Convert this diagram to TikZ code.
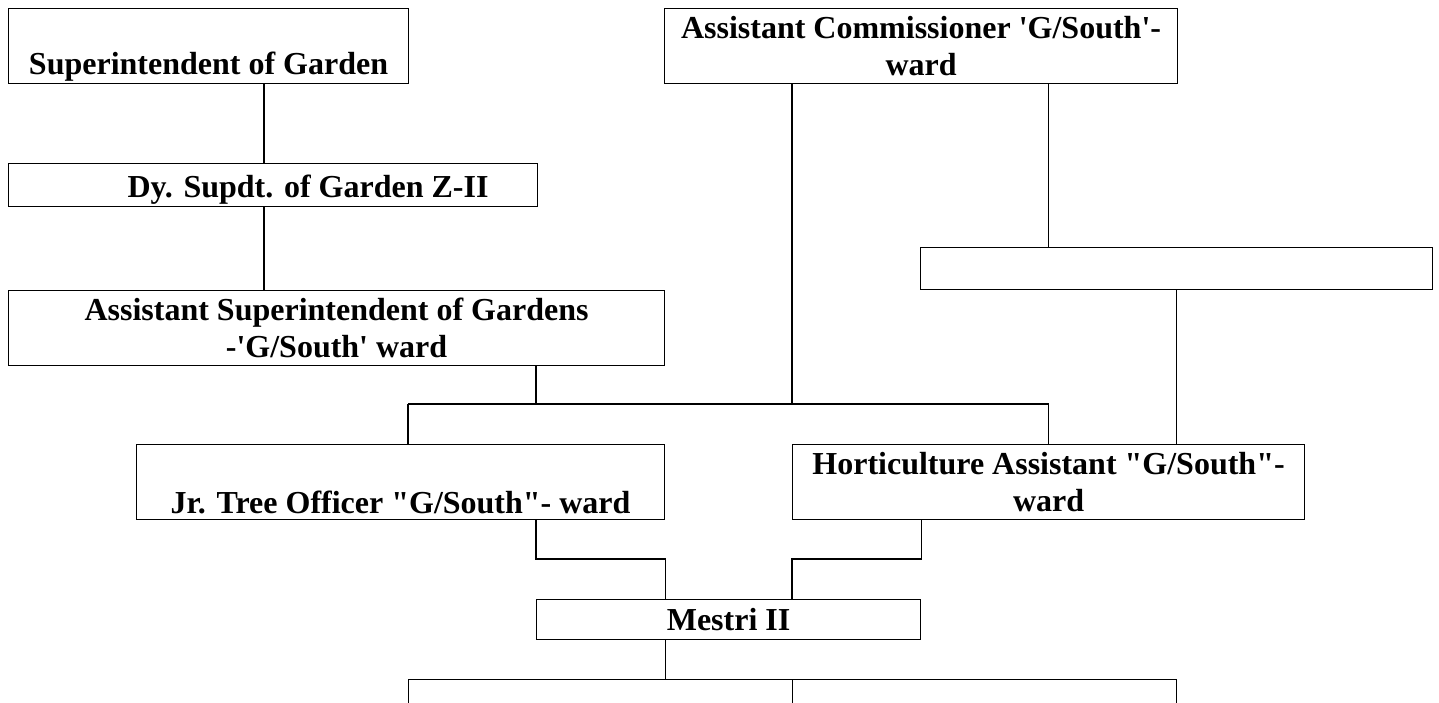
\documentclass[tikz,border=0pt]{standalone}
\usepackage{fontspec}
\setmainfont{Liberation Serif}
\usetikzlibrary{positioning}

\begin{document}
\begin{tikzpicture}[x=1pt, y=-1pt, line width=1.1pt,
    box/.style={rectangle, draw, inner sep=0pt, anchor=north west, align=center,
      font=\fontsize{32}{37}\selectfont\bfseries}]
    \useasboundingbox (0,0) rectangle (1439,702);
    \clip (0,0) rectangle (1439,702);

    % left column
    \node [box, minimum width=400pt, minimum height=75pt] (supt) at (8,8) {\strut\\Superintendent of Garden};
    \node [box, minimum width=529pt, minimum height=43pt] (dy) at (8,163) {\hspace*{70pt}\rule{0pt}{32pt}Dy. Supdt. of Garden Z-II};
    \node [box, minimum width=656pt, minimum height=75pt] (asg) at (8,290) {Assistant Superintendent of Gardens\\-\textquotesingle G/South\textquotesingle{} ward};

    % right column
    \node [box, minimum width=513pt, minimum height=75pt] (ac) at (664,8) {Assistant Commissioner \textquotesingle G/South\textquotesingle-\\ward};
    \node [box, minimum width=512pt, minimum height=42pt] (blank) at (920,247) {};

    % lower levels
    \node [box, minimum width=528pt, minimum height=75pt] (jr) at (136,444) {\strut\\Jr. Tree Officer \textquotedbl G/South\textquotedbl- ward};
    \node [box, minimum width=512pt, minimum height=75pt] (hort) at (792,444) {Horticulture Assistant \textquotedbl G/South\textquotedbl-\\ward};
    \node [box, minimum width=384pt, minimum height=40pt] (mestri) at (536,599) {Mestri II};
    \node [box, minimum width=384pt, minimum height=75pt] (lowleft) at (408,679) {};
    \node [box, minimum width=384pt, minimum height=75pt] (lowright) at (792,679) {};

    \coordinate (spine) at (264,0);
    \coordinate (bar) at (0,404);
    \coordinate (knee) at (0,559);

    \draw (supt.south -| spine) -- (dy.north -| spine);
    \draw (dy.south -| spine) -- (asg.north -| spine);

    \draw (lowleft.north west |- bar) -- (hort.north |- bar);
    \draw (lowleft.north west |- bar) -- (lowleft.north west |- jr.north);
    \draw (hort.north |- bar) -- (hort.north);
    \draw (asg.south -| mestri.west) -- (bar -| mestri.west);
    \draw (ac.south -| hort.west) -- (bar -| hort.west);
    \draw (ac.south -| hort.north) -- (blank.north -| hort.north);
    \draw (blank.south) -- (hort.north -| blank.south);

    \draw (jr.south -| mestri.west) |- (knee -| jr.east) -- (mestri.north -| jr.east);
    \draw (hort.south -| mestri.east) |- (knee -| hort.west) -- (mestri.north -| hort.west);
    \draw (mestri.south -| jr.east) -- (lowleft.north -| jr.east);
\end{tikzpicture}
\end{document}
